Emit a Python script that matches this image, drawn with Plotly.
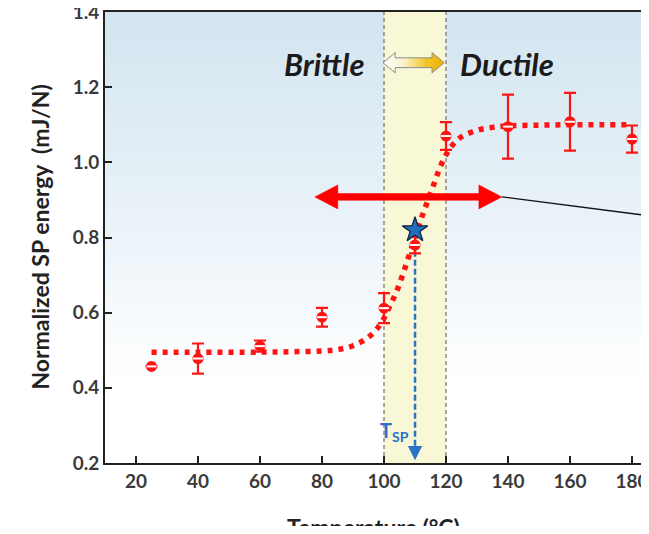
import plotly.graph_objects as go

# ---------------- data ----------------
temps = [25, 40, 60, 80, 100, 110, 120, 140, 160, 180]
energy = [0.457, 0.478, 0.511, 0.588, 0.612, 0.780, 1.070, 1.095, 1.108, 1.062]
energy_err = [0.0, 0.040, 0.015, 0.025, 0.040, 0.022, 0.037, 0.085, 0.077, 0.036]

fit_t = [25, 40, 60, 70, 80, 85, 90, 95, 98, 100, 102, 104, 106, 108, 110, 112, 114, 116,
         118, 120, 122, 125, 130, 135, 140, 150, 160, 170, 180]
fit_e = [0.495, 0.495, 0.495, 0.496, 0.498, 0.502, 0.512, 0.535, 0.560, 0.585, 0.620, 0.655,
         0.700, 0.750, 0.800, 0.850, 0.895, 0.940, 0.985, 1.020, 1.045, 1.068, 1.085, 1.093,
         1.097, 1.099, 1.100, 1.100, 1.100]

t_sp = 110
t_sp_energy = 0.82
band = [100, 120]
x_ticks = [20, 40, 60, 80, 100, 120, 140, 160, 180]
x_range = [10, 182.9]
y_range = [0.2, 1.4]

range_arrow = [77.7, 138.0]
range_arrow_y = 0.908
pointer_end = [190.0, 0.853]

RED = "#ff1414"
BLUE = "#2a72c6"
FONT = "Lato"

fig = go.Figure()

# background gradient
fig.add_trace(go.Scatter(
    x=[x_range[0], x_range[1], x_range[1], x_range[0], x_range[0]],
    y=[y_range[0], y_range[0], y_range[1], y_range[1], y_range[0]],
    mode="lines", line=dict(width=0), fill="toself",
    fillgradient=dict(type="vertical", start=y_range[0], stop=y_range[1],
                      colorscale=[[0, "#ffffff"], [0.18, "#ffffff"], [0.55, "#e9f2f8"], [1, "#d3e5f0"]]),
    hoverinfo="skip", showlegend=False))

# yellow transition band
fig.add_trace(go.Scatter(
    x=[band[0], band[1], band[1], band[0], band[0]],
    y=[y_range[0], y_range[0], y_range[1], y_range[1], y_range[0]],
    mode="lines", line=dict(width=0), fill="toself", fillcolor="#f8f8d6",
    hoverinfo="skip", showlegend=False))
for bx in band:
    fig.add_trace(go.Scatter(x=[bx, bx], y=y_range, mode="lines",
                             line=dict(color="#8a8a8a", width=1.5, dash="4px,3px"),
                             hoverinfo="skip", showlegend=False))

# fitted dotted curve
fig.add_trace(go.Scatter(x=fit_t, y=fit_e, mode="lines",
                         line=dict(color=RED, width=5.5, dash="5px,6px", shape="spline"),
                         hoverinfo="skip", showlegend=False))

# blue dashed T_SP line
fig.add_trace(go.Scatter(x=[t_sp, t_sp], y=[0.765, 0.215], mode="lines",
                         line=dict(color=BLUE, width=2.5, dash="6px,3px"),
                         hoverinfo="skip", showlegend=False))

# data with error bars
fig.add_trace(go.Scatter(x=temps, y=energy, mode="markers",
                         marker=dict(color=RED, size=11, symbol="circle"),
                         error_y=dict(type="data", array=energy_err, visible=True,
                                      color=RED, thickness=2.2, width=6),
                         showlegend=False))
fig.add_trace(go.Scatter(x=temps, y=energy, mode="markers",
                         marker=dict(symbol="line-ew", size=7,
                                     line=dict(color="white", width=2)),
                         hoverinfo="skip", showlegend=False))

# star at T_SP
fig.add_trace(go.Scatter(x=[t_sp], y=[t_sp_energy], mode="markers",
                         marker=dict(symbol="star", size=19, color="#1f6fc0",
                                     line=dict(color="#14263a", width=1.3)),
                         showlegend=False))

# hollow brittle->ductile arrow
ax0, ax1 = band[0] - 0.3, band[1] - 0.6
ay = 1.265
hl, hh, sh = 3.9, 0.027, 0.013
fig.add_trace(go.Scatter(
    x=[ax0, ax0 + hl, ax0 + hl, ax1 - hl, ax1 - hl, ax1, ax1 - hl, ax1 - hl, ax0 + hl, ax0 + hl, ax0],
    y=[ay, ay + hh, ay + sh, ay + sh, ay + hh, ay, ay - hh, ay - sh, ay - sh, ay - hh, ay],
    mode="lines", line=dict(color="#8c8c8c", width=1), fill="toself",
    fillgradient=dict(type="horizontal", start=ax0, stop=ax1,
                      colorscale=[[0, "#ffffff"], [0.35, "#fbf1c8"], [0.7, "#f3c52a"], [1, "#eeb000"]]),
    hoverinfo="skip", showlegend=False))

# red double arrow
rl, rr = range_arrow
rhl, rhh, rsh = 7.4, 0.032, 0.009
fig.add_trace(go.Scatter(
    x=[rl, rl + rhl, rl + rhl, rr - rhl, rr - rhl, rr, rr - rhl, rr - rhl, rl + rhl, rl + rhl, rl],
    y=[range_arrow_y, range_arrow_y + rhh, range_arrow_y + rsh, range_arrow_y + rsh,
       range_arrow_y + rhh, range_arrow_y, range_arrow_y - rhh, range_arrow_y - rsh,
       range_arrow_y - rsh, range_arrow_y - rhh, range_arrow_y],
    mode="lines", line=dict(color="#ff0000", width=0.5), fill="toself", fillcolor="#ff0000",
    hoverinfo="skip", showlegend=False))

# black pointer line
fig.add_trace(go.Scatter(x=[rr, pointer_end[0]], y=[range_arrow_y, pointer_end[1]], mode="lines",
                         line=dict(color="#111111", width=1.3), hoverinfo="skip", showlegend=False))

# blue arrow head
fig.add_annotation(x=t_sp, y=0.207, ax=t_sp, ay=0.245, xref="x", yref="y", axref="x", ayref="y",
                   showarrow=True, arrowhead=2, arrowsize=1.3, arrowwidth=2.2, arrowcolor=BLUE, text="")

fig.add_annotation(x=108.8, y=0.284, xref="x", yref="y", xanchor="right", yanchor="middle",
                   text="T<sub>SP</sub>", showarrow=False,
                   font=dict(family=FONT, size=20, color=BLUE, weight="bold"))

fig.add_annotation(x=94.6, y=1.262, xref="x", yref="y", xanchor="right", yanchor="middle",
                   text="<i>Brittle</i>", showarrow=False,
                   font=dict(family=FONT, size=31, color="#1b1b1b", weight="bold"))
fig.add_annotation(x=124.0, y=1.262, xref="x", yref="y", xanchor="left", yanchor="middle",
                   text="<i>Ductile</i>", showarrow=False,
                   font=dict(family=FONT, size=31, color="#1b1b1b", weight="bold"))

# axis titles as paper-anchored annotations
fig.add_annotation(x=-0.123, y=0.5, xref="paper", yref="paper", xanchor="center", yanchor="middle",
                   text="Normalized SP energy  (mJ/N)", textangle=-90, showarrow=False,
                   font=dict(family=FONT, size=23, color="#222", weight="bold"))
fig.add_annotation(x=0.5, y=-0.106, xref="paper", yref="paper", xanchor="center", yanchor="top",
                   text="Temperature (°C)", showarrow=False,
                   font=dict(family=FONT, size=23, color="#222", weight="bold"))

# the page body adds an 8px margin on every side; size the figure so the page never scrolls
fig.update_layout(
    width=633, height=518,
    margin=dict(l=97, r=0, t=4, b=63, autoexpand=False),
    paper_bgcolor="white", plot_bgcolor="white",
    font=dict(family=FONT, color="#3a3a3a"),
    xaxis=dict(range=x_range, tickvals=x_ticks, ticks="inside", ticklen=7, tickwidth=2,
               tickcolor="#222", showline=True, linewidth=2, linecolor="#222", mirror=True,
               showgrid=False, zeroline=False, automargin=False, ticklabeloverflow="allow",
               tickfont=dict(family=FONT, size=19, color="#3a3a3a", weight="bold")),
    yaxis=dict(range=y_range, dtick=0.2, tick0=0.2, tickformat=".1f", ticks="inside", ticklen=7,
               tickwidth=2, tickcolor="#222", showline=True, linewidth=2, linecolor="#222",
               showgrid=False, zeroline=False, automargin=False, ticklabeloverflow="allow",
               tickfont=dict(family=FONT, size=19, color="#3a3a3a", weight="bold")),
)

fig.write_html("out.html")
